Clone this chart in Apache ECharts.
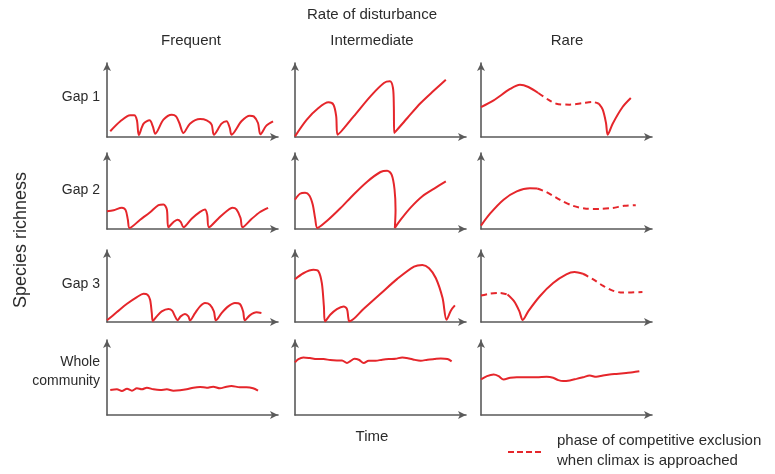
<!DOCTYPE html>
<html>
<head>
<meta charset="utf-8">
<script src="https://cdn.jsdelivr.net/npm/echarts@6/dist/echarts.min.js"></script>
<style>
  html, body { margin: 0; padding: 0; background: #fff; }
  #chart-container { width: 775px; height: 474px; }
</style>
</head>
<body>
<div id="chart-container"></div>
<script>
// column and row labels
const rates = ["Frequent", "Intermediate", "Rare"];
const gaps = ["Gap 1", "Gap 2", "Gap 3", "Whole\ncommunity"];

// species richness over time (x: time 0-100, y: richness 0-100)
const frequentGap1 = [[1.9,7.7],[7.8,21.2],[13.6,29.3],[15.9,29.3],[17.5,22.5],[18.6,2.7],[21.4,18],[24.9,22.5],[26.8,14.4],[28.2,4.5],[33,23.4],[37.9,30.2],[40.4,27.9],[42.3,18.9],[44.7,5.4],[48.5,18],[54.4,24.3],[58.3,22.5],[61.2,16.7],[62.5,3.2],[67,18],[69.9,21.2],[71.8,12.2],[72.8,3.2],[78.6,21.2],[83.5,28.8],[85.8,27.9],[88.3,18.9],[89.7,3.6],[93.2,15.3],[97.1,21.2]];
const intermediateGap1 = [[0,0.9],[6.9,23.4],[13.7,39.2],[19.6,46.8],[22.5,43.7],[24.1,27.9],[24.9,3.2],[34.3,27.9],[44.1,55],[52,73],[55.5,75.2],[57.3,66.2],[57.8,41.4],[58,5.4],[65.7,25.7],[73.5,45.9],[81.4,63.1],[88.2,77.5]];
const rareGap1 = [[0,40.5],[7.4,49.5],[17,64.9],[22.8,70.7],[27.7,67.6],[33.5,59.5],[39.3,50.5],[44.1,45],[51.8,43.7],[59.6,45.9],[65.4,47.3],[68.9,45],[71.2,36.9],[73.1,18.9],[74.1,3.2],[77,18],[82.8,40.5],[87.6,52.7]];

const frequentGap2 = [[0,23.4],[3.9,24.8],[8.7,27.9],[10.9,24.8],[12.2,12.2],[13.2,1.4],[19.4,12.2],[25.2,22.1],[30.1,31.5],[33,32.4],[35,25.7],[35.9,2.3],[38.8,9],[41.2,12.2],[43.1,9.5],[44.7,2.3],[49.5,13.5],[54.4,22.5],[57.3,25.7],[58.6,18.9],[59.6,2.3],[65,13.5],[69.9,23.4],[73.4,27.9],[75.7,25.7],[78.1,14.4],[79.2,2.3],[84.5,13.1],[89.3,22.1],[94.2,27.9]];
const intermediateGap2 = [[0,38.6],[2.9,46.4],[5.9,47.7],[8.4,44.1],[10.4,31.8],[11.8,13.6],[13.1,1.4],[18.6,10.5],[26.5,27.3],[34.3,45.5],[42.2,62.3],[50,75],[53.9,76.8],[56.5,71.4],[58.2,52.3],[58.8,25],[58.4,1.4],[61.8,12.3],[67.6,28.2],[74.5,43.2],[81.4,53.2],[88.2,62.7]];
const rareGap2 = [[0,4.5],[5.4,20.5],[13.2,38.6],[20.9,49.5],[28.6,53.6],[32.9,53.2],[38.3,48.6],[46,38.6],[53.8,30.5],[61.5,26.8],[69.2,26.4],[77,27.7],[83.8,30.5],[90.5,31.4]];

const frequentGap3 = [[0,2.3],[5.8,13.8],[11.7,25.3],[17.5,34.6],[21.4,39.2],[23.7,37.8],[25.2,30.9],[26.2,12.4],[26.8,1.4],[29.1,7.8],[32,14.7],[35.9,18],[38.1,15.7],[39.8,7.8],[41.2,2.3],[43.1,7.8],[45.6,11.1],[47.6,7.8],[48.5,2.3],[51.5,12.4],[54.4,21.7],[57.3,26.3],[60.2,24],[62.5,14.7],[63.7,2.3],[67,12.4],[70.9,21.7],[74.8,26.3],[77.7,24.9],[79.6,14.7],[80.6,2.3],[83.5,9.2],[87.4,13.4],[90.3,12.4]];
const intermediateGap3 = [[0,59.4],[4.9,67.7],[10.8,72.4],[13.7,70.5],[15.7,53.9],[16.9,21.7],[17.6,0.9],[20.6,10.1],[24.5,18],[28.4,21.7],[30.4,18],[31.2,5.5],[31.8,0.9],[40.2,18.4],[50,39.2],[59.8,59.9],[69.6,77],[74.5,79.3],[78.4,74.7],[82.4,60.8],[86.3,33.2],[88.6,3.2],[91.2,16.1],[93.5,23]];
const rareGap3 = [[0,36.7],[5.4,39.4],[11.2,40.4],[15.5,38.1],[19.3,28.9],[22.4,15.1],[24.4,2.8],[27.7,15.1],[34.4,35.8],[42.2,54.1],[49.9,66.1],[54.7,69.3],[59.6,67],[65.4,59.6],[71.2,50.5],[77,43.6],[82.8,40.8],[94.4,41.7]];

const frequentWhole = [[1.9,33.3],[5.8,34.2],[8.7,32],[11.7,35.1],[14.6,32.4],[17.5,35.6],[20.4,34.2],[23.3,36.4],[27.2,34.2],[31.1,33.3],[35,34.2],[38.8,32.4],[42.7,32.9],[46.6,34.2],[50.5,36.4],[54.4,37.3],[58.3,36.4],[62.1,37.8],[66,35.6],[69.9,37.8],[72.8,38.7],[77.7,36.9],[81.6,36.9],[85.4,35.6],[88.3,32.4]];
const intermediateWhole = [[0,70.2],[2,74.6],[4.9,76.8],[8.8,75.9],[12.7,74.6],[16.7,74.6],[20.6,73.2],[24.5,72.8],[27.5,72.8],[30.4,69.3],[32.4,71.9],[34.7,75],[37.3,73.7],[40.2,69.3],[43.1,72.4],[47.1,72.4],[51,73.7],[54.9,74.6],[58.8,75],[62.7,76.8],[66.7,75.4],[69.6,73.7],[73.5,72.4],[77.5,73.7],[81.4,74.6],[85.3,75.4],[89.2,74.6],[91.6,71.5]];
const rareWhole = [[0,47.4],[3.5,51.8],[7.4,53.9],[10.3,51.8],[13.2,47.4],[17.1,49.6],[20.9,50.4],[26.7,50.4],[32.6,50.4],[38.4,50.9],[42.2,49.6],[45.2,46.5],[48.1,45.2],[51.9,46.1],[55.8,48.2],[59.7,50.4],[63.6,52.6],[67.4,50.9],[71.3,52.6],[75.2,53.9],[79.1,54.8],[84.9,56.1],[88.8,57],[92.6,58.3]];

// time ranges of the competitive exclusion phase (drawn dashed)
const rareGap1Exclusion = [[33.5, 68.9]];
const rareGap2Exclusion = [[32.9, 100]];
const rareGap3Exclusion = [[0, 15.5], [59.6, 100]];

const panels = [
  [frequentGap1, intermediateGap1, rareGap1],
  [frequentGap2, intermediateGap2, rareGap2],
  [frequentGap3, intermediateGap3, rareGap3],
  [frequentWhole, intermediateWhole, rareWhole]
];
const exclusions = [
  [[], [], rareGap1Exclusion],
  [[], [], rareGap2Exclusion],
  [[], [], rareGap3Exclusion],
  [[], [], []]
];

var dom = document.getElementById("chart-container");
var myChart = echarts.init(dom, null, { renderer: "canvas" });

const RED = "#e5262b";
const AXIS = "#5a5a5a";
const INK = "#2b2b2b";
const FONT = "Liberation Sans";
const lefts = [107, 295, 481];
const tops = [63, 153, 250, 340];
const heights = [74, 76, 72, 75];
const panelWidth = 171;

// split a curve into solid / dashed runs
const splitSegments = (pts, ranges) => {
  const inRange = (a, b) => ranges.some(r => a[0] >= r[0] && b[0] <= r[1]);
  let segs = [];
  let cur = null;
  for (let i = 0; i < pts.length - 1; i++) {
    const dashed = inRange(pts[i], pts[i + 1]);
    if (!cur || cur.dashed !== dashed) {
      cur = { dashed: dashed, data: [pts[i]] };
      segs.push(cur);
    }
    cur.data.push(pts[i + 1]);
  }
  return segs;
};

let grids = [], xAxes = [], yAxes = [], series = [];
const axisLine = {
  show: true,
  symbol: ["none", "arrow"],
  symbolSize: [6, 8],
  lineStyle: { color: AXIS, width: 1.6 }
};
for (let r = 0; r < 4; r++) {
  for (let c = 0; c < 3; c++) {
    const idx = grids.length;
    grids.push({ left: lefts[c], top: tops[r], width: panelWidth, height: heights[r] });
    xAxes.push({
      gridIndex: idx, type: "value", min: 0, max: 100,
      axisLine: axisLine, axisTick: { show: false }, axisLabel: { show: false }, splitLine: { show: false }
    });
    yAxes.push({
      gridIndex: idx, type: "value", min: 0, max: 100,
      axisLine: axisLine, axisTick: { show: false }, axisLabel: { show: false }, splitLine: { show: false }
    });
    splitSegments(panels[r][c], exclusions[r][c]).forEach(seg => {
      series.push({
        type: "line",
        xAxisIndex: idx,
        yAxisIndex: idx,
        data: seg.data,
        showSymbol: false,
        smooth: 0.3,
        silent: true,
        lineStyle: { color: RED, width: 2, type: seg.dashed ? [6, 4] : "solid" }
      });
    });
  }
}

const text = (x, y, t, size, align) => ({
  type: "text",
  style: { x: x, y: y, text: t, fill: INK, font: size + "px " + FONT, textAlign: align || "center", textVerticalAlign: "middle" }
});

let graphics = [
  text(372, 15, "Rate of disturbance", 15),
  text(191, 41, rates[0], 15),
  text(372, 41, rates[1], 15),
  text(567, 41, rates[2], 15),
  text(372, 437, "Time", 15),
  {
    type: "text", x: 21, y: 240, rotation: Math.PI / 2,
    style: { x: 0, y: 0, text: "Species richness", fill: INK, font: "18px " + FONT, textAlign: "center", textVerticalAlign: "middle" }
  }
];
const gapY = [97, 190, 284, 372];
gaps.forEach((g, i) => {
  graphics.push({
    type: "text",
    style: { x: 100, y: gapY[i], text: g, fill: INK, font: "14px " + FONT, textAlign: "right", textVerticalAlign: "middle", lineHeight: 19 }
  });
});
// legend
graphics.push({
  type: "line",
  shape: { x1: 508, y1: 452, x2: 541, y2: 452 },
  style: { stroke: RED, lineWidth: 2, lineDash: [6, 3] }
});
graphics.push({
  type: "text",
  style: { x: 557, y: 451, text: "phase of competitive exclusion\nwhen climax is approached", fill: INK, font: "15px " + FONT, textAlign: "left", textVerticalAlign: "middle", lineHeight: 20 }
});

var option = {
  backgroundColor: "#fff",
  animation: false,
  grid: grids,
  xAxis: xAxes,
  yAxis: yAxes,
  series: series,
  graphic: graphics
};
myChart.setOption(option);
window.addEventListener("resize", myChart.resize);
</script>
</body>
</html>
